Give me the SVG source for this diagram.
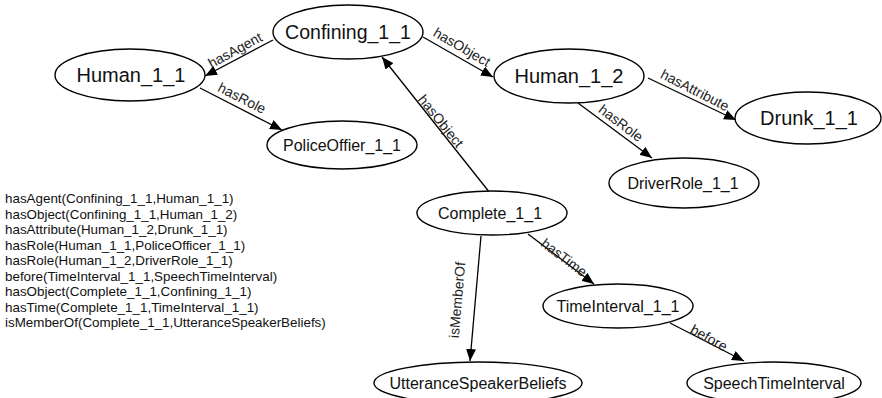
<svg xmlns="http://www.w3.org/2000/svg" width="882" height="398" viewBox="0 0 882 398">
<style>
.n ellipse{fill:#fff;stroke:#000;stroke-width:1.4}
.n text{font-family:"Liberation Sans",Arial,sans-serif;text-anchor:middle;fill:#111}
.big{font-size:20px}
.sm{font-size:16px}
.e line{stroke:#000;stroke-width:1.3;marker-end:url(#ah)}
.lbl{font-family:"Liberation Sans",Arial,sans-serif;font-size:14px;text-anchor:middle;fill:#222}
.facts{font-family:"Liberation Sans",Arial,sans-serif;font-size:13.4px;fill:#111}
</style>
<defs>
<marker id="ah" markerUnits="userSpaceOnUse" markerWidth="12" markerHeight="10" refX="12" refY="5" orient="auto">
<path d="M0,0 L12,5 L0,10 z" fill="#000"/>
</marker>
</defs>
<rect width="882" height="398" fill="#fff"/>
<g id="connectors" class="e">
<line x1="273" y1="40" x2="205" y2="76"/>
<line x1="200" y1="88" x2="282" y2="130"/>
<line x1="423" y1="37" x2="493" y2="77"/>
<line x1="490" y1="193" x2="382" y2="57"/>
<line x1="648" y1="78" x2="736" y2="120"/>
<line x1="578" y1="103" x2="652" y2="158"/>
<line x1="528" y1="234" x2="594" y2="284"/>
<line x1="481" y1="236" x2="470" y2="361"/>
<line x1="670" y1="323" x2="744" y2="361"/>
</g>
<g id="edge-labels">
<text class="lbl" transform="translate(235,50) rotate(-28.5)" y="5">hasAgent</text>
<text class="lbl" transform="translate(242,98) rotate(27)" y="5">hasRole</text>
<text class="lbl" transform="translate(462,47) rotate(30)" y="5">hasObject</text>
<text class="lbl" transform="translate(441,121) rotate(51)" y="5">hasObject</text>
<text class="lbl" transform="translate(695,90) rotate(27)" y="5">hasAttribute</text>
<text class="lbl" transform="translate(621,123) rotate(37)" y="5">hasRole</text>
<text class="lbl" transform="translate(566,255) rotate(37)" y="8">hasTime</text>
<text class="lbl" transform="translate(457,300) rotate(-85)" y="5">isMemberOf</text>
<text class="lbl" transform="translate(710,336) rotate(29)" y="7">before</text>
</g>
<g id="Confining_1_1" class="n"><ellipse cx="348" cy="32" rx="75" ry="27"/><text class="big" x="348" y="39" style="font-size:19.5px">Confining_1_1</text></g>
<g id="Human_1_1" class="n"><ellipse cx="130" cy="75" rx="75" ry="26"/><text class="big" x="131" y="82">Human_1_1</text></g>
<g id="Human_1_2" class="n"><ellipse cx="569" cy="76" rx="75" ry="27"/><text class="big" x="569" y="83">Human_1_2</text></g>
<g id="Drunk_1_1" class="n"><ellipse cx="808" cy="118" rx="73" ry="26"/><text class="big" x="809" y="125">Drunk_1_1</text></g>
<g id="PoliceOffier_1_1" class="n"><ellipse cx="342" cy="145" rx="75" ry="24"/><text class="sm" x="342" y="151">PoliceOffier_1_1</text></g>
<g id="DriverRole_1_1" class="n"><ellipse cx="684" cy="183" rx="75" ry="25"/><text class="sm" x="683" y="189">DriverRole_1_1</text></g>
<g id="Complete_1_1" class="n"><ellipse cx="492" cy="213" rx="75" ry="22"/><text class="sm" x="490" y="219">Complete_1_1</text></g>
<g id="TimeInterval_1_1" class="n"><ellipse cx="618" cy="306" rx="75" ry="22"/><text class="sm" x="618" y="312">TimeInterval_1_1</text></g>
<g id="UtteranceSpeakerBeliefs" class="n"><ellipse cx="478" cy="383" rx="104" ry="21"/><text class="sm" x="478" y="389">UtteranceSpeakerBeliefs</text></g>
<g id="SpeechTimeInterval" class="n"><ellipse cx="774" cy="383" rx="87" ry="21"/><text class="sm" x="774" y="389">SpeechTimeInterval</text></g>
<g id="facts" class="facts">
<text x="5" y="203">hasAgent(Confining_1_1,Human_1_1)</text>
<text x="5" y="218.5">hasObject(Confining_1_1,Human_1_2)</text>
<text x="5" y="234">hasAttribute(Human_1_2,Drunk_1_1)</text>
<text x="5" y="249.5">hasRole(Human_1_1,PoliceOfficer_1_1)</text>
<text x="5" y="265">hasRole(Human_1_2,DriverRole_1_1)</text>
<text x="5" y="280.5">before(TimeInterval_1_1,SpeechTimeInterval)</text>
<text x="5" y="296">hasObject(Complete_1_1,Confining_1_1)</text>
<text x="5" y="311.5">hasTime(Complete_1_1,TimeInterval_1_1)</text>
<text x="5" y="327">isMemberOf(Complete_1_1,UtteranceSpeakerBeliefs)</text>
</g>
</svg>
